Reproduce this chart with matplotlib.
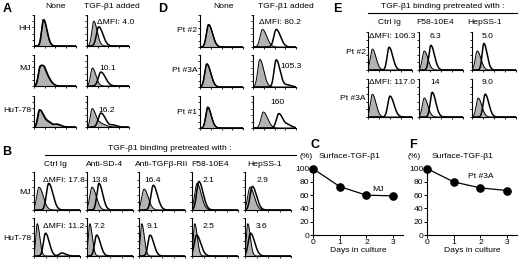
import numpy as np
import matplotlib
matplotlib.use('Agg')
import matplotlib.pyplot as plt
from matplotlib.lines import Line2D

plt.rcParams['font.family'] = ['Liberation Sans', 'DejaVu Sans']
plt.rcParams['font.size'] = 6.1

W, H = 520, 260

# ---- panel A: cell lines, none vs TGF-b1 added ----
A_rows = ['HH', 'MJ', 'HuT-78']
A_cols = ['None', 'TGF-β1 added']
A_dmfi = ['ΔMFI: 4.0', '10.1', '16.2']
# peaks as (center, width, height) in axis fractions, per row, per column
A_gray = [
    [[(0.22, 0.045, 0.85)], [(0.16, 0.045, 0.80)]],
    [[(0.14, 0.045, 0.60), (0.26, 0.06, 0.35)], [(0.13, 0.045, 0.58)]],
    [[(0.12, 0.04, 0.50), (0.25, 0.08, 0.20), (0.55, 0.05, 0.06)],
     [(0.12, 0.04, 0.55), (0.25, 0.08, 0.15)]],
]
A_open = [
    [[(0.23, 0.045, 0.85)], [(0.28, 0.055, 0.62)]],
    [[(0.15, 0.045, 0.58), (0.27, 0.06, 0.37)], [(0.33, 0.06, 0.45)]],
    [[(0.13, 0.04, 0.48), (0.26, 0.08, 0.22), (0.56, 0.05, 0.07)],
     [(0.33, 0.06, 0.45), (0.62, 0.05, 0.06)]],
]

# ---- panel D: patients, none vs TGF-b1 added ----
D_rows = ['Pt #2', 'Pt #3A', 'Pt #1']
D_dmfi = ['ΔMFI: 80.2', '105.3', '160']
D_gray = [
    [[(0.20, 0.05, 0.70)], [(0.22, 0.055, 0.55)]],
    [[(0.16, 0.05, 0.72)], [(0.16, 0.05, 0.86)]],
    [[(0.18, 0.045, 0.65)], [(0.24, 0.055, 0.50)]],
]
D_open = [
    [[(0.20, 0.05, 0.70)], [(0.54, 0.055, 0.55)]],
    [[(0.16, 0.05, 0.72)], [(0.54, 0.05, 0.85), (0.80, 0.05, 0.06)]],
    [[(0.18, 0.045, 0.65)], [(0.60, 0.055, 0.45), (0.82, 0.05, 0.08)]],
]

# ---- panel E: patients, blocking antibodies ----
E_rows = ['Pt #2', 'Pt #3A']
E_cols = ['Ctrl Ig', 'F58-10E4', 'HepSS-1']
E_dmfi = [['ΔMFI: 106.3', '6.3', '5.0'], ['ΔMFI: 117.0', '14', '9.0']]
E_gray = [
    [[(0.10, 0.045, 0.55)], [(0.12, 0.045, 0.50)], [(0.12, 0.045, 0.50)]],
    [[(0.10, 0.045, 0.60)], [(0.12, 0.045, 0.50)], [(0.14, 0.045, 0.50)]],
]
E_open = [
    [[(0.48, 0.045, 0.60)], [(0.27, 0.045, 0.65)], [(0.27, 0.04, 0.70)]],
    [[(0.50, 0.05, 0.55)], [(0.30, 0.045, 0.65)], [(0.30, 0.045, 0.60)]],
]

# ---- panel B: cell lines, blocking antibodies ----
B_rows = ['MJ', 'HuT-78']
B_cols = ['Ctrl Ig', 'Anti-SD-4', 'Anti-TGFβ-RII', 'F58-10E4', 'HepSS-1']
B_dmfi = [['ΔMFI: 17.8', '13.8', '16.4', '2.1', '2.9'],
          ['ΔMFI: 11.2', '7.2', '9.1', '2.5', '3.6']]
B_gray = [
    [[(0.11, 0.05, 0.60)], [(0.11, 0.05, 0.60)], [(0.11, 0.05, 0.55)],
     [(0.11, 0.05, 0.70)], [(0.11, 0.05, 0.60)]],
    [[(0.07, 0.03, 0.85)], [(0.06, 0.03, 0.85)], [(0.06, 0.03, 0.85)],
     [(0.06, 0.03, 0.85)], [(0.06, 0.03, 0.85)]],
]
B_open = [
    [[(0.32, 0.05, 0.70)], [(0.26, 0.045, 0.70)], [(0.31, 0.05, 0.65)],
     [(0.15, 0.05, 0.75)], [(0.16, 0.05, 0.62)]],
    [[(0.25, 0.045, 0.60), (0.60, 0.05, 0.08)], [(0.21, 0.045, 0.55)],
     [(0.24, 0.045, 0.55)], [(0.10, 0.05, 0.55)], [(0.12, 0.05, 0.60)]],
]

# ---- panels C and F: surface TGF-b1 over days in culture ----
days = [0, 1, 2, 3]
C_surface = [100, 73, 60, 59]
F_surface = [100, 80, 71, 67]

fig = plt.figure(figsize=(W / 100, H / 100), dpi=100)


def px_axes(l, t, w, h):
    return fig.add_axes([l / W, 1 - (t + h) / H, w / W, h / H])


def ftext(x, y, s, **kw):
    kw.setdefault('ha', 'center')
    kw.setdefault('va', 'center')
    fig.text(x / W, 1 - y / H, s, **kw)


def hline(x0, x1, y):
    fig.add_artist(Line2D([x0 / W, x1 / W], [1 - y / H, 1 - y / H],
                          color='black', lw=0.8))


xs = np.linspace(0, 1, 400)


def curve(peaks):
    y = np.zeros_like(xs)
    for c, w, h in peaks:
        wid = np.where(xs < c, w, w * 1.8)
        y += h * np.exp(-0.5 * ((xs - c) / wid) ** 2)
    return y


def histo(l, t, w, h, gray, open_):
    ax = px_axes(l, t, w, h)
    g = curve(gray)
    ax.fill_between(xs, 0, g, color='#b3b3b3', lw=0)
    ax.plot(xs, g, color='black', lw=0.7)
    if open_:
        ax.plot(xs, curve(open_), color='black', lw=1.1)
    ax.set_xlim(0, 1)
    ax.set_ylim(0, 1)
    for s in ['top', 'right']:
        ax.spines[s].set_visible(False)
    for s in ['left', 'bottom']:
        ax.spines[s].set_linewidth(0.8)
    ax.set_xticks(np.linspace(0, 1, 5))
    ax.set_yticks(np.linspace(0, 1, 6))
    ax.tick_params(length=1.5, width=0.6, direction='out',
                   labelbottom=False, labelleft=False)
    return ax


def line_panel(l, t, w, h, y, label, lx, ly):
    ax = px_axes(l, t, w, h)
    ax.plot(days, y, color='black', lw=0.9, marker='o', ms=5.2,
            clip_on=False, zorder=3)
    ax.set_xlim(0, 3.37)
    ax.set_ylim(0, 104)
    ax.set_xticks(days)
    ax.set_yticks([0, 20, 40, 60, 80, 100])
    for s in ['top', 'right']:
        ax.spines[s].set_visible(False)
    for s in ['left', 'bottom']:
        ax.spines[s].set_linewidth(0.8)
    ax.tick_params(length=2, width=0.7, pad=0.8, labelsize=6.1)
    ax.text(lx, ly, label, ha='center', va='center', fontsize=6.1)
    ax.set_xlabel('Days in culture', fontsize=6.1, labelpad=0.5)
    return ax


# Panel A
ftext(7, 9, 'A', fontsize=9, fontweight='bold')
ftext(55, 7, A_cols[0])
ftext(112, 7, A_cols[1])
A_left = [34, 87]
A_top = [15, 55, 96]
for r in range(3):
    ftext(31, A_top[r] + 14, A_rows[r], ha='right')
    for c in range(2):
        histo(A_left[c], A_top[r], 42, 31, A_gray[r][c], A_open[r][c])
ftext(116, 22, A_dmfi[0])
ftext(108, 69, A_dmfi[1])
ftext(107, 111, A_dmfi[2])

# Panel D
ftext(163, 9, 'D', fontsize=9, fontweight='bold')
ftext(224, 7, A_cols[0])
ftext(286, 7, A_cols[1])
D_left = [200, 253]
D_top = [15, 55, 96]
for r in range(3):
    ftext(197, D_top[r] + 16, D_rows[r], ha='right')
    for c in range(2):
        histo(D_left[c], D_top[r], 43, 32, D_gray[r][c], D_open[r][c])
ftext(280, 22, D_dmfi[0])
ftext(291, 66, D_dmfi[1])
ftext(277, 103, D_dmfi[2])

# Panel E
ftext(337, 9, 'E', fontsize=9, fontweight='bold')
ftext(443, 6, 'TGF-β1 binding pretreated with :')
hline(368, 517, 13)
E_left = [368, 419, 472]
E_top = [32, 79]
E_lab_x = [389, 435, 485]
for c in range(3):
    ftext(E_lab_x[c], 22, E_cols[c])
for r in range(2):
    ftext(366, E_top[r] + 20, E_rows[r], ha='right')
    for c in range(3):
        histo(E_left[c], E_top[r], 44, 38, E_gray[r][c], E_open[r][c])
        ftext([392, 435, 488][c], E_top[r] + 4, E_dmfi[r][c])

# Panel B
ftext(7, 152, 'B', fontsize=9, fontweight='bold')
ftext(170, 149, 'TGF-β1 binding pretreated with :')
hline(45, 296, 155)
B_left = [34, 87, 139, 192, 245]
B_top = [172, 218]
B_lab_x = [55, 105, 162, 210, 265]
for c in range(5):
    ftext(B_lab_x[c], 165, B_cols[c])
for r in range(2):
    ftext(31, B_top[r] + 20, B_rows[r], ha='right')
    for c in range(5):
        histo(B_left[c], B_top[r], 46, 38, B_gray[r][c], B_open[r][c])
        ftext([64, 100, 153, 208, 262][c], B_top[r] + 9, B_dmfi[r][c])

# Panels C and F
ftext(315, 145, 'C', fontsize=9, fontweight='bold')
ftext(306, 156, '(%)')
ftext(350, 156, 'Surface-TGF-β1')
line_panel(313, 166, 90, 69, C_surface, 'MJ', 2.45, 68)

ftext(413, 145, 'F', fontsize=9, fontweight='bold')
ftext(414, 156, '(%)')
ftext(463, 156, 'Surface-TGF-β1')
line_panel(427, 166, 90, 69, F_surface, 'Pt #3A', 2.0, 88)

fig.savefig('out.png', dpi=100)
